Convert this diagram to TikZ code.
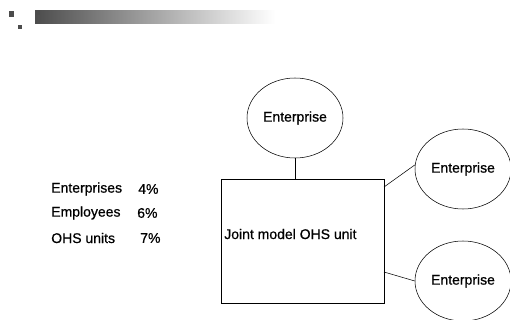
\documentclass[tikz,border=0pt]{standalone}
\usepackage{fontspec}
\setmainfont[FakeBold=0.6]{Liberation Sans}
\usetikzlibrary{shapes.geometric, positioning}
\tikzset{enterprise/.style={draw,ellipse,minimum width=72pt,minimum height=60pt,inner sep=0pt},
         unitbox/.style={draw,rectangle,minimum width=122pt,minimum height=93pt,inner sep=0pt},
         stat/.style={anchor=west,inner sep=0pt},
         deco/.style={fill=black!70,draw=none},
        }

\begin{document}
\begin{tikzpicture}[x=0.75pt,y=-0.75pt,font=\fontsize{10.5}{12}\selectfont]
        \useasboundingbox (0,0) rectangle (510,320);

        % header ornament
        \shade[left color=black!70,right color=white,draw=none](35,11)rectangle(275,24);
        \fill[deco](9,11)rectangle(14,17);
        \fill[deco](36,10)rectangle(40,15);
        \fill[deco](18,25)rectangle(22,29);

        \node[enterprise](top)at(295,118){Enterprise};
        \node[enterprise](ent1)at(463,169){Enterprise};
        \node[enterprise](ent2)at(463,281){Enterprise};
        \node[unitbox](unit)at(302.5,241){};
        \node[anchor=west,inner sep=0pt](unittext)at(224,234){Joint model OHS unit};

        \coordinate(u1)at(384,187);
        \coordinate(u2)at(384,272);
        \draw(top.south)--(top.south|-unit.north);
        \draw(u1)--(ent1.175);
        \draw(u2)--(ent2.180);

        \node[stat](s1)at(51,189){Enterprises};
        \node[stat](s2)at(51,213){Employees};
        \node[stat](s3)at(51,238){OHS units};
        \node[stat](p1)at(138,189){4\%};
        \node[stat](p2)at(137,213){6\%};
        \node[stat](p3)at(140,238){7\%};
    \end{tikzpicture}
\end{document}
